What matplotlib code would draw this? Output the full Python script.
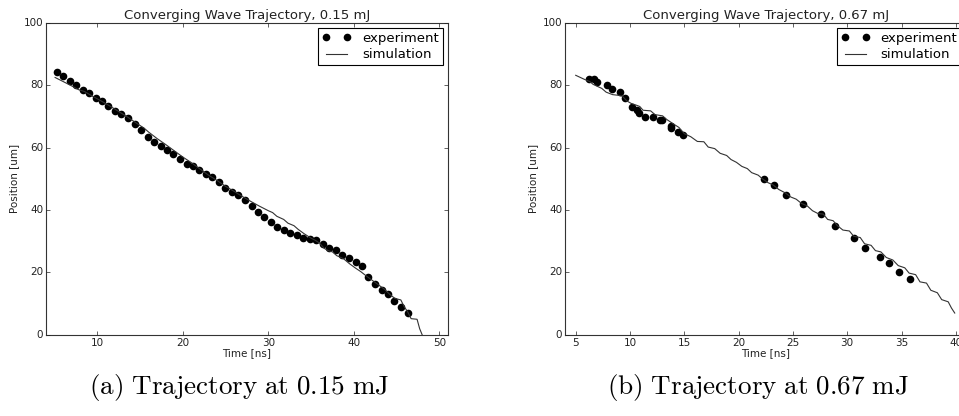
import numpy as np
import matplotlib
matplotlib.use('Agg')
import matplotlib.pyplot as plt

plt.style.use('classic')
plt.rcParams['mathtext.fontset'] = 'cm'
plt.rcParams['font.family'] = 'DejaVu Sans'

# ---- data: 0.15 mJ ----
exp1_t = [5.26, 6.0, 6.77, 7.51, 8.29, 9.03, 9.81, 10.54, 11.28, 12.06, 12.80, 13.58,
          14.35, 15.13, 15.91, 16.65, 17.42, 18.16, 18.90, 19.68, 20.46, 21.2, 21.93,
          22.71, 23.45, 24.23, 24.97, 25.74, 26.48, 27.26, 28.04, 28.78, 29.55, 30.29,
          31.07, 31.81, 32.55, 33.36, 34.10, 34.84, 35.62, 36.36, 37.13, 37.91, 38.65,
          39.43, 40.20, 40.94, 41.68, 42.50, 43.24, 43.97, 44.75, 45.57, 46.31]
exp1_x = [84.4, 82.9, 81.3, 80.0, 78.5, 77.4, 76.0, 74.9, 73.4, 71.9, 70.8, 69.4,
          67.7, 65.7, 63.5, 61.9, 60.6, 59.4, 58.0, 56.3, 54.8, 54.0, 52.9,
          51.7, 50.6, 48.9, 47.1, 45.8, 44.8, 43.1, 41.3, 39.5, 37.9, 36.3,
          34.7, 33.7, 32.8, 32.0, 31.0, 30.7, 30.3, 29.1, 27.7, 27.2, 25.6,
          24.5, 23.4, 22.2, 18.4, 16.3, 14.5, 13.0, 11.0, 9.0, 7.0]
sim1_t = [5.06, 6.0, 7.0, 7.8, 8.5, 9.5, 10.5, 11.5, 12.5, 13.5, 14.5, 15.5, 16.0,
          17.0, 18.0, 19.0, 20.0, 21.0, 22.0, 23.0, 24.0, 25.0, 26.0, 27.0, 28.0,
          29.0, 30.0, 30.5, 31.0, 31.8, 32.3, 33.0, 33.5, 34.2, 35.0, 35.5, 36.0,
          36.5, 37.0, 37.5, 38.0, 38.8, 39.5, 40.2, 40.8, 41.5, 42.2, 43.0, 43.6,
          44.2, 44.8, 45.5, 45.9, 46.3, 46.7, 47.4, 47.7, 48.0]
sim1_x = [82.5, 81.2, 79.8, 78.6, 78.0, 76.4, 74.9, 73.3, 71.6, 69.9, 68.0, 66.2, 65.0,
          62.9, 61.0, 59.0, 57.0, 55.2, 53.2, 51.2, 49.5, 47.6, 46.0, 44.3, 42.7,
          41.2, 39.8, 39.2, 38.0, 37.0, 35.8, 35.0, 33.8, 32.4, 31.0, 30.3, 29.4,
          27.8, 27.0, 26.6, 25.4, 24.4, 22.8, 21.4, 20.3, 18.8, 17.4, 15.8, 14.6,
          13.0, 11.7, 11.2, 9.0, 7.4, 5.2, 5.0, 2.0, 0.0]

# ---- data: 0.67 mJ ----
exp2_t = [6.23, 6.66, 7.0, 7.86, 8.32, 9.08, 9.51, 10.22, 10.65, 10.83, 11.42, 12.12,
          12.77, 12.92, 13.78, 13.81, 14.46, 14.86, 22.35, 23.3, 24.34, 25.94, 27.6,
          28.89, 30.58, 31.65, 33.06, 33.86, 34.75, 35.76]
exp2_x = [82.0, 82.0, 81.1, 80.0, 78.9, 78.0, 75.9, 72.9, 72.2, 71.0, 69.9, 69.9,
          69.0, 69.0, 67.1, 66.2, 64.9, 64.0, 49.9, 47.9, 44.9, 42.0, 38.9,
          35.0, 30.9, 27.8, 24.9, 22.9, 20.0, 17.9]
sim2_t = [5.0, 5.8, 6.3, 6.6, 7.4, 7.8, 8.4, 8.9, 9.3, 9.7, 10.1, 10.6, 10.9, 11.2,
          11.9, 12.3, 13.0, 13.4, 14.0, 14.5, 15.0, 15.6, 16.2, 16.8, 17.2, 17.8,
          18.3, 18.9, 19.3, 19.8, 20.3, 20.8, 21.2, 21.8, 22.2, 22.7, 23.2, 23.7,
          24.3, 24.8, 25.3, 25.8, 26.3, 26.8, 27.3, 27.8, 28.2, 28.7, 29.1, 29.6,
          30.2, 30.6, 31.2, 31.6, 32.2, 32.6, 33.1, 33.6, 34.2, 34.7, 35.3, 35.7,
          36.3, 36.7, 37.3, 37.7, 38.3, 38.7, 39.3, 39.6, 39.9]
sim2_x = [83.2, 81.9, 81.2, 80.3, 79.0, 77.8, 77.0, 76.8, 76.5, 75.0, 74.2, 73.6, 73.2, 72.0,
          71.8, 70.6, 70.2, 69.0, 67.6, 66.5, 64.5, 63.5, 62.0, 61.9, 60.2, 59.7,
          58.2, 57.5, 56.2, 55.3, 54.0, 53.3, 52.0, 51.2, 50.0, 48.8, 48.0, 46.6,
          45.5, 44.2, 43.5, 42.1, 41.4, 39.8, 38.9, 38.7, 37.0, 36.6, 35.0, 33.6,
          33.3, 31.6, 31.2, 29.2, 28.7, 27.0, 26.6, 24.8, 24.0, 22.2, 21.5, 19.8,
          19.3, 17.0, 16.6, 14.3, 13.5, 11.3, 10.6, 8.6, 7.0]

panels = [
    (exp1_t, exp1_x, sim1_t, sim1_x, (4, 51), [10, 20, 30, 40, 50],
     'Converging Wave Trajectory, 0.15 mJ', r'$\mathrm{(a)\ Trajectory\ at\ 0.15\ mJ}$',
     [0.048, 0.195, 0.419, 0.75]),
    (exp2_t, exp2_x, sim2_t, sim2_x, (4, 41), [5, 10, 15, 20, 25, 30, 35, 40],
     'Converging Wave Trajectory, 0.67 mJ', r'$\mathrm{(b)\ Trajectory\ at\ 0.67\ mJ}$',
     [0.589, 0.195, 0.419, 0.75]),
]

fig = plt.figure(figsize=(9.59, 4.16), dpi=100, facecolor='white')

for et, ex, st, sx, xlim, xticks, title, caption, rect in panels:
    ax = fig.add_axes(rect)
    ax.plot(et, ex, 'o', color='black', markersize=5.5, markeredgewidth=0, label='experiment')
    ax.plot(st, sx, '-', color='#333333', linewidth=0.8, label='simulation')
    ax.set_xlim(xlim)
    ax.set_ylim(0, 100)
    ax.set_xticks(xticks)
    ax.set_yticks([0, 20, 40, 60, 80, 100])
    ax.tick_params(labelsize=7.5, length=3, pad=2, colors='#222222')
    for sp in ax.spines.values():
        sp.set_color('#333333')
        sp.set_linewidth(0.8)
    ax.set_title(title, fontsize=9.5, pad=3, color='#222222')
    ax.set_xlabel('Time [ns]', fontsize=7.5, labelpad=0, color='#222222')
    ax.set_ylabel('Position [um]', fontsize=7.5, labelpad=3, color='#222222')
    leg = ax.legend(loc='upper right', fontsize=9.5, numpoints=2, borderaxespad=0.4,
                    handlelength=2.2, handletextpad=0.8, borderpad=0.3, labelspacing=0.25)
    leg.get_frame().set_linewidth(0.8)
    fig.text(rect[0] + rect[2] / 2 - 0.008, 0.068, caption, ha='center', va='center',
             fontsize=19.5)

fig.savefig('out.png', dpi=100, facecolor='white')
